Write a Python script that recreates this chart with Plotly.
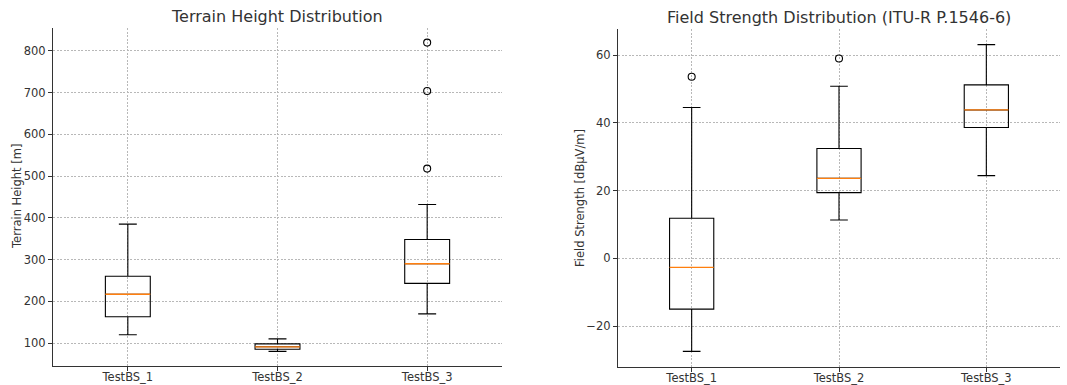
import plotly.graph_objects as go

categories = ["TestBS_1", "TestBS_2", "TestBS_3"]
positions = [1, 2, 3]

# Terrain height stats
th_low = [120, 80, 170]
th_q1 = [163, 85, 243]
th_med = [217, 91, 290]
th_q3 = [260, 98, 348]
th_high = [385, 110, 432]
th_out_x = [3, 3, 3]
th_out_y = [518, 704, 820]

# Field strength stats
fs_low = [-27.5, 11.3, 24.4]
fs_q1 = [-15.0, 19.4, 38.6]
fs_med = [-2.7, 23.6, 43.8]
fs_q3 = [11.8, 32.4, 51.2]
fs_high = [44.5, 50.8, 63.1]
fs_out_x = [1, 2]
fs_out_y = [53.6, 59.0]

BOX_W = 0.3
ORANGE = "#ff7f0e"
FONT = "DejaVu Sans"
TXT = "#333333"

fig = go.Figure()

def add_panel(xa, ya, low, q1, med, q3, high, ox, oy):
    fig.add_trace(go.Box(
        x=positions, q1=q1, median=med, q3=q3, lowerfence=low, upperfence=high,
        width=BOX_W, whiskerwidth=0.4, fillcolor="rgba(0,0,0,0)",
        line=dict(color="black", width=1.1), boxpoints=False,
        xaxis=xa, yaxis=ya, showlegend=False, hoverinfo="skip"))
    mx, my = [], []
    for p, m in zip(positions, med):
        mx += [p - BOX_W / 2, p + BOX_W / 2, None]
        my += [m, m, None]
    fig.add_trace(go.Scatter(x=mx, y=my, mode="lines",
                             line=dict(color=ORANGE, width=1.3),
                             xaxis=xa, yaxis=ya, showlegend=False, hoverinfo="skip"))
    fig.add_trace(go.Scatter(x=ox, y=oy, mode="markers",
                             marker=dict(symbol="circle-open", size=7,
                                         color="black", line=dict(width=1.1)),
                             xaxis=xa, yaxis=ya, showlegend=False, hoverinfo="skip"))

add_panel("x", "y", th_low, th_q1, th_med, th_q3, th_high, th_out_x, th_out_y)
add_panel("x2", "y2", fs_low, fs_q1, fs_med, fs_q3, fs_high, fs_out_x, fs_out_y)

W, H = 1067, 385
GRID = dict(showgrid=True, gridcolor="#b8b8b8", griddash="2px,1.5px", gridwidth=0.8)
common_x = dict(range=[0.5, 3.5], tickvals=positions, ticktext=categories,
                showline=True, linecolor="#333333", linewidth=1.2,
                ticks="outside", ticklen=4, tickcolor="#333333",
                ticklabelstandoff=-4,
                tickfont=dict(family=FONT, size=11.5, color=TXT),
                zeroline=False, automargin=False, fixedrange=True, **GRID)
common_y = dict(showline=True, linecolor="#333333", linewidth=1.2,
                ticks="outside", ticklen=4, tickcolor="#333333",
                tickfont=dict(family=FONT, size=11.5, color=TXT),
                zeroline=False, automargin=False, fixedrange=True, **GRID)

fig.update_layout(
    width=W, height=H,
    margin=dict(l=0, r=0, t=0, b=0),
    paper_bgcolor="white", plot_bgcolor="white",
    xaxis=dict(domain=[53 / W, 502 / W], anchor="y", **common_x),
    yaxis=dict(domain=[1 - 366 / H, 1 - 28 / H], anchor="x", range=[45, 855],
               tickvals=[100, 200, 300, 400, 500, 600, 700, 800], **common_y),
    xaxis2=dict(domain=[618 / W, 1060 / W], anchor="y2", **common_x),
    yaxis2=dict(domain=[1 - 367 / H, 1 - 29 / H], anchor="x2", range=[-32.1, 67.7],
                tickvals=[-20, 0, 20, 40, 60], **common_y),
    annotations=[
        dict(text="Terrain Height Distribution", x=277 / W, y=1 - 16 / H,
             xref="paper", yref="paper", showarrow=False,
             font=dict(family=FONT, size=16, color=TXT), xanchor="center", yanchor="middle"),
        dict(text="Field Strength Distribution (ITU-R P.1546-6)", x=839 / W, y=1 - 17 / H,
             xref="paper", yref="paper", showarrow=False,
             font=dict(family=FONT, size=16, color=TXT), xanchor="center", yanchor="middle"),
        dict(text="Terrain Height [m]", x=17 / W, y=1 - 197 / H, textangle=-90,
             xref="paper", yref="paper", showarrow=False,
             font=dict(family=FONT, size=11.5, color=TXT), xanchor="center", yanchor="middle"),
        dict(text="Field Strength [dBµV/m]", x=580 / W, y=1 - 198 / H, textangle=-90,
             xref="paper", yref="paper", showarrow=False,
             font=dict(family=FONT, size=11.5, color=TXT), xanchor="center", yanchor="middle"),
    ],
)

fig.write_html("out.html")
